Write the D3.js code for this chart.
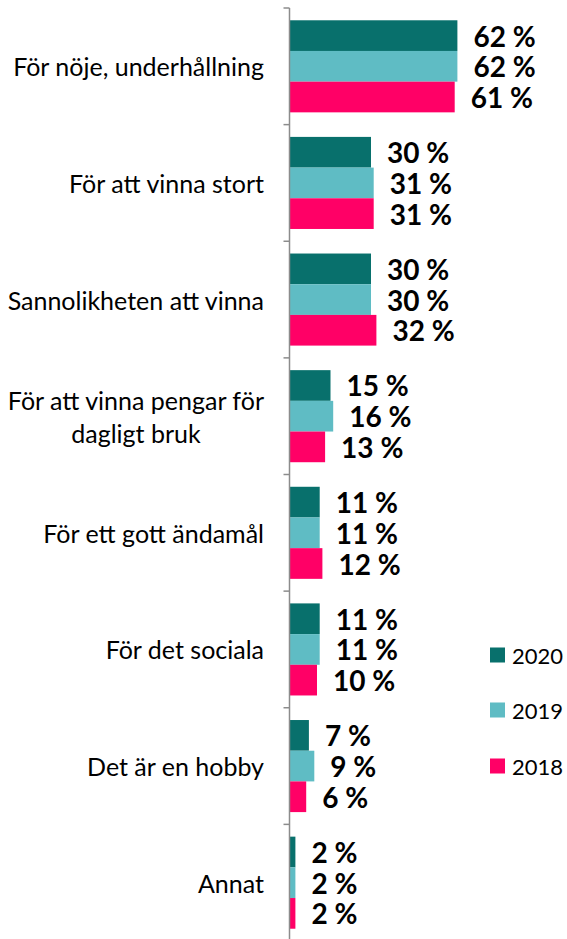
<!DOCTYPE html>
<html>
<head>
<meta charset="utf-8">
<script src="https://cdn.jsdelivr.net/npm/d3@7"></script>
<style>
  html, body { margin: 0; padding: 0; background: #fff; }
  svg { display: block; }
  text { font-family: Lato, "Open Sans", sans-serif; fill: #000; }
</style>
</head>
<body>
<svg id="chart" width="567" height="939"></svg>
<script>
// categories (multi-line labels split by \n)
const categories = [
  'För nöje, underhållning',
  'För att vinna stort',
  'Sannolikheten att vinna',
  'För att vinna pengar för\ndagligt bruk',
  'För ett gott ändamål',
  'För det sociala',
  'Det är en hobby',
  'Annat',
]
const seriesNames = ['2020', '2019', '2018']
const values2020 = [62, 30, 30, 15, 11, 11, 7, 2]
const values2019 = [62, 31, 30, 16, 11, 11, 9, 2]
const values2018 = [61, 31, 32, 13, 12, 10, 6, 2]
const colors = ['#08706c', '#5fbcc4', '#ff0066']

const seriesValues = [values2020, values2019, values2018]

const svg = d3.select('#chart')

// NOTE: scales
const y0 = d3.scaleBand().domain(categories).range([8, 941]).padding(0)
const y1 = d3.scaleBand()
  .domain(seriesNames)
  .range([0, y0.bandwidth()])
  .paddingInner(0)
  .paddingOuter(0.4)
const x = d3.scaleLinear().domain([0, 100]).range([290, 560])

// NOTE: bars + value labels
const groups = svg.selectAll('g.cat')
  .data(categories)
  .join('g')
  .attr('class', 'cat')
  .attr('transform', (d) => `translate(0,${y0(d)})`)

seriesNames.forEach((name, si) => {
  groups.append('rect')
    .attr('x', x(0))
    .attr('y', y1(name))
    .attr('width', (d, i) => x(seriesValues[si][i]) - x(0))
    .attr('height', y1.bandwidth())
    .attr('fill', colors[si])

  groups.append('text')
    .attr('x', (d, i) => x(seriesValues[si][i]) + 16)
    .attr('y', y1(name) + y1.bandwidth() / 2)
    .attr('dominant-baseline', 'central')
    .style('font-size', '28px')
    .style('font-weight', 'bold')
    .text((d, i) => `${seriesValues[si][i]} %`)
})

// NOTE: axis line with ticks at band boundaries
const axisX = 289.5
svg.append('line')
  .attr('x1', axisX).attr('x2', axisX)
  .attr('y1', y0.range()[0]).attr('y2', y0.range()[1])
  .attr('stroke', '#8c8c8c').attr('stroke-width', 1.5)

const bounds = categories.map((c) => y0(c)).concat([y0.range()[1]])
svg.selectAll('line.tick')
  .data(bounds)
  .join('line')
  .attr('class', 'tick')
  .attr('x1', axisX - 6).attr('x2', axisX)
  .attr('y1', (d) => d).attr('y2', (d) => d)
  .attr('stroke', '#8c8c8c').attr('stroke-width', 1.5)

// NOTE: category labels, block right-aligned, lines centered
const labelRight = 264
const lineH = 33
categories.forEach((c) => {
  const lines = c.split('\n')
  const cy = y0(c) + y0.bandwidth() / 2
  const t = svg.append('text')
    .attr('text-anchor', 'middle')
    .attr('dominant-baseline', 'central')
    .style('font-size', '25px')
  lines.forEach((ln, li) => {
    t.append('tspan')
      .attr('y', cy + (li - (lines.length - 1) / 2) * lineH)
      .text(ln)
  })
  const maxW = d3.max(t.selectAll('tspan').nodes(), (n) => n.getComputedTextLength())
  t.selectAll('tspan').attr('x', labelRight - maxW / 2)
})

// NOTE: legend
const legendY = [655, 710, 766]
seriesNames.forEach((name, i) => {
  svg.append('rect')
    .attr('x', 490).attr('y', legendY[i] - 7.5)
    .attr('width', 15).attr('height', 15)
    .attr('fill', colors[i])
  svg.append('text')
    .attr('x', 512).attr('y', legendY[i])
    .attr('dominant-baseline', 'central')
    .style('font-size', '22px')
    .text(name)
})
</script>
</body>
</html>
